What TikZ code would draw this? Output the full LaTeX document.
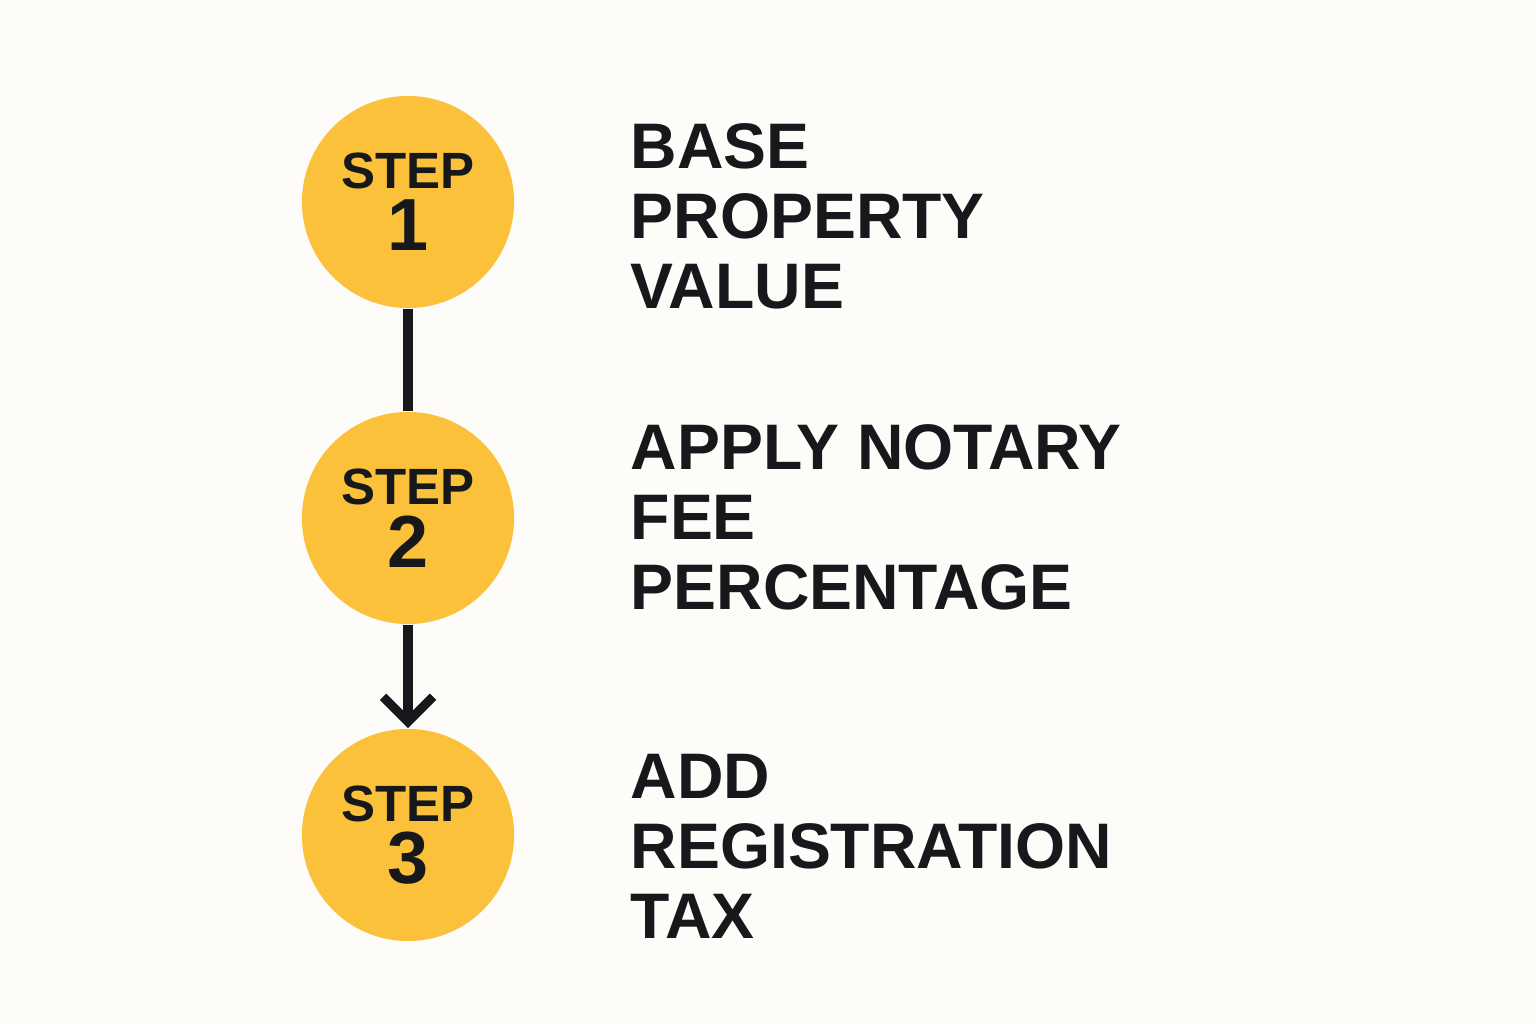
\documentclass[tikz,border=0pt]{standalone}
\usepackage{fontspec}
\setmainfont{Liberation Sans}
\usetikzlibrary{positioning, arrows.meta}
\definecolor{stepyellow}{HTML}{FBC13A}
\definecolor{ink}{HTML}{16181C}
\definecolor{paper}{HTML}{FDFCF8}
\newcommand{\stepnum}[1]{{\fontsize{14.5}{16}\selectfont STEP}\\[2pt]{\fontsize{21}{21}\selectfont #1}}
\tikzset{
	stepcircle/.style={circle, fill=stepyellow, minimum size=2.12cm, inner sep=0pt, align=center, text=ink, font=\bfseries},
	steplabel/.style={anchor=west, inner sep=0pt, align=left, text=ink, font=\fontsize{18.3}{19.9}\selectfont\bfseries},
	link/.style={draw=ink, line width=2.6pt}
}
\begin{document}
\begin{tikzpicture}[x=0.01cm, y=-0.01cm]
	\fill[paper] (0,0) rectangle (1536,1024);
	\node[stepcircle] (s1) at (408,202) {\stepnum{1}};
	\node[stepcircle] (s2) at (408,518) {\stepnum{2}};
	\node[stepcircle] (s3) at (408,835) {\stepnum{3}};
	\draw[link] (s1) -- (s2);
	\draw[link, -{Straight Barb[length=2.5mm, width=5mm, line width=2.6pt]}] (s2) -- (s3);
	\node[steplabel] (t1) at (630,216) {BASE\\PROPERTY\\VALUE};
	\node[steplabel] (t2) at (630,517) {APPLY NOTARY\\FEE\\PERCENTAGE};
	\node[steplabel] (t3) at (630,846) {ADD\\REGISTRATION\\TAX};
\end{tikzpicture}
\end{document}
